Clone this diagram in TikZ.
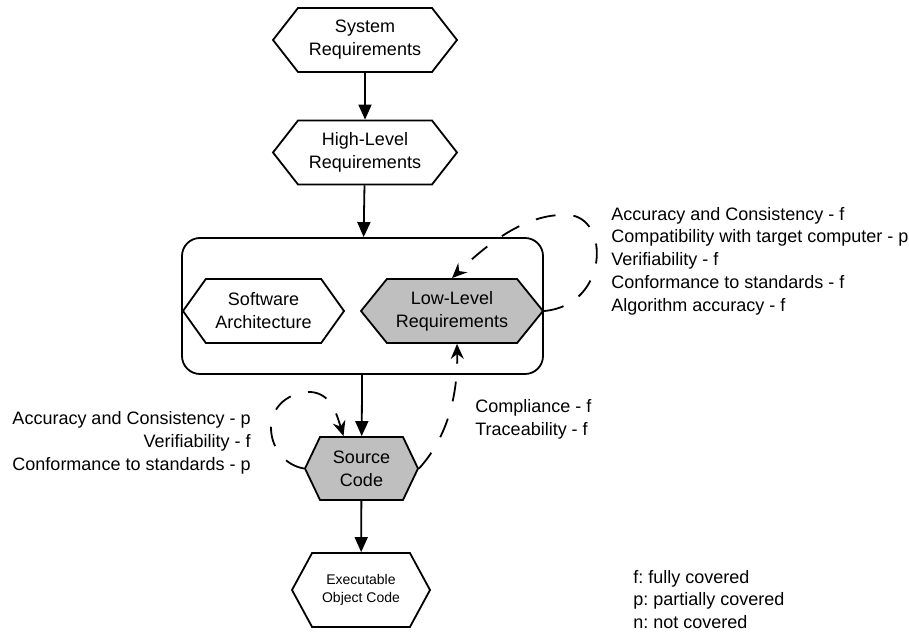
\documentclass[tikz,border=0pt]{standalone}
\usepackage{fontspec}
\setmainfont{Liberation Sans}
\usetikzlibrary{shapes.symbols,arrows.meta}
\frenchspacing

\tikzset{
  hexa/.style={signal,signal to=west and east,draw=black,line width=0.9pt,inner sep=0pt,
    align=center,font=\fontsize{9}{11.5}\selectfont},
  grey/.style={fill=black!25},
  flow/.style={line width=0.9pt,-{Triangle[length=7.5pt,width=6.5pt]}},
  trace/.style={line width=0.9pt,dash pattern=on 10pt off 9pt,-{Stealth[length=7.5pt,width=6.5pt,inset=2.5pt]}},
  note/.style={inner sep=0pt,font=\fontsize{9}{11.4}\selectfont}
}

\begin{document}
\begin{tikzpicture}[x=0.5pt,y=-0.5pt]
      \useasboundingbox (0,0) rectangle (909,635);

      \node[hexa,minimum width=92pt,minimum height=32pt,signal pointer angle=104] (s) at (365,40) {System\\Requirements};
      \node[hexa,minimum width=92pt,minimum height=32pt,signal pointer angle=104] (h) at (365,152.5) {High-Level\\Requirements};

      \node[draw=black,line width=0.9pt,rounded corners=9pt,minimum width=180.5pt,minimum height=68pt] (b) at (362.5,306) {};
      \node[hexa,minimum width=80.5pt,minimum height=32pt,signal pointer angle=109] (a) at (263.5,311) {Software\\Architecture};
      \node[hexa,grey,minimum width=91pt,minimum height=32pt,signal pointer angle=102] (l) at (452,311) {Low-Level\\Requirements};

      \node[hexa,grey,minimum width=56.5pt,minimum height=31.5pt,signal pointer angle=129] (c) at (361.5,468.5) {Source\\Code};
      \node[hexa,minimum width=69pt,minimum height=37pt,signal pointer angle=123,font=\fontsize{7}{9}\selectfont] (e) at (361,590) {Executable\\Object Code};

      % review notes
      \node[note,anchor=west,align=left] (r) at (611,261) {Accuracy and Consistency - f\\Compatibility with target computer - p\\Verifiability - f\\Conformance to standards - f\\Algorithm accuracy - f};
      \node[note,anchor=east,align=right] (w) at (251,443) {Accuracy and Consistency - p\\Verifiability - f\\Conformance to standards - p};
      \node[note,anchor=west,align=left] (t) at (475,419.5) {Compliance - f\\Traceability - f};
      \node[note,anchor=west,align=left,font=\fontsize{9}{11.25}\selectfont] (k) at (633,599.5) {f: fully covered\\p: partially covered\\n: not covered};

      \draw[flow] (s) -- (h);
      \draw[flow] (h) -- (b);
      \draw[flow] (b) -- (c);
      \draw[flow] (c) -- (e);

      \draw[trace] (l.east) .. controls (610,305) and (610,215) .. (567,215) .. controls (525,213) and (485,246) .. (l.north);
      \draw[trace] (c.west) .. controls (265,462) and (255,400) .. (305,392) .. controls (330,390) and (336,412) .. ([xshift=-9pt]c.north);
      \draw[trace] (c.east) .. controls (445,440) and (458,400) .. ([xshift=2.5pt]l.south);
\end{tikzpicture}
\end{document}
